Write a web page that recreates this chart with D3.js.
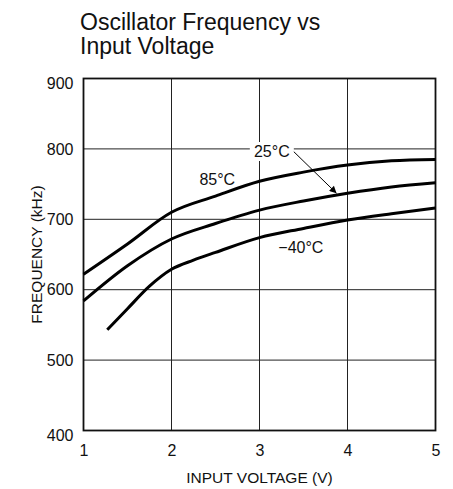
<!DOCTYPE html>
<html>
<head>
<meta charset="utf-8">
<script src="https://cdn.jsdelivr.net/npm/d3@7"></script>
<style>
    body { margin: 0; background: #fff; }
    text { font-family: "Liberation Sans", Arial, sans-serif; fill: #111; }
</style>
</head>
<body>
<svg id="chart" width="453" height="489"></svg>
<script>
// values
let xTicks = [1, 2, 3, 4, 5];
let yTicks = [400, 500, 600, 700, 800, 900];

let volts85 = [1, 1.5, 2, 2.5, 3, 3.5, 4, 4.5, 5];
let freq85 = [622, 665, 710, 733, 754, 767, 777, 783, 785];

let volts25 = [1, 1.5, 2, 2.5, 3, 3.5, 4, 4.5, 5];
let freq25 = [584, 634, 672, 694, 713, 726, 737, 746, 752];

let voltsM40 = [1.27, 1.5, 1.75, 2, 2.25, 2.5, 3, 3.5, 4, 4.5, 5];
let freqM40 = [543, 573, 605, 629, 642, 653, 674, 687, 699, 708, 716];

let margin = {top: 78.5, right: 17.5, bottom: 58.5, left: 83.5},
    width = 453 - margin.left - margin.right,
    height = 489 - margin.top - margin.bottom;

let svg = d3.select("#chart");

let x = d3.scaleLinear().domain([1, 5]).range([0, width]);
let y = d3.scaleLinear().domain([400, 900]).range([height, 0]);

// title
svg.append("text")
    .attr("x", 80)
    .attr("y", 30)
    .style("font-size", "23px")
    .text("Oscillator Frequency vs");
svg.append("text")
    .attr("x", 80)
    .attr("y", 54)
    .style("font-size", "23px")
    .text("Input Voltage");

let chart = svg.append("g")
    .attr("transform", "translate(" + margin.left + "," + margin.top + ")");

// grid
chart.append("g")
    .selectAll("line")
    .data(xTicks.slice(1, -1))
    .enter().append("line")
    .attr("x1", d => x(d)).attr("x2", d => x(d))
    .attr("y1", 0).attr("y2", height)
    .attr("stroke", "#222").attr("stroke-width", 1);

chart.append("g")
    .selectAll("line")
    .data(yTicks.slice(1, -1))
    .enter().append("line")
    .attr("x1", 0).attr("x2", width)
    .attr("y1", d => y(d)).attr("y2", d => y(d))
    .attr("stroke", "#222").attr("stroke-width", 1);

chart.append("rect")
    .attr("width", width)
    .attr("height", height)
    .attr("fill", "none")
    .attr("stroke", "#111")
    .attr("stroke-width", 1.8);

// axes (labels only)
let xAxis = chart.append("g")
    .attr("transform", "translate(0," + height + ")")
    .call(d3.axisBottom(x).tickValues(xTicks).tickSize(0).tickPadding(14).tickFormat(d3.format("d")));
xAxis.select(".domain").remove();
xAxis.selectAll("text").style("font-size", "16px").style("font-family", null);

let yAxis = chart.append("g")
    .call(d3.axisLeft(y).tickValues(yTicks).tickSize(0).tickPadding(10).tickFormat(d3.format("d")));
yAxis.select(".domain").remove();
yAxis.selectAll("text").style("font-size", "16px").style("font-family", null)
    .attr("dy", (d, i) => (i == 0 || i == yTicks.length - 1) ? "0.6em" : "0.32em");

svg.append("text")
    .attr("x", margin.left + width / 2)
    .attr("y", 483)
    .attr("text-anchor", "middle")
    .style("font-size", "15.5px")
    .text("INPUT VOLTAGE (V)");

svg.append("text")
    .attr("transform", "translate(42," + (margin.top + height / 2) + ") rotate(-90)")
    .attr("text-anchor", "middle")
    .style("font-size", "15.5px")
    .text("FREQUENCY (kHz)");

// curves
let line = d3.line()
    .x(d => x(d[0]))
    .y(d => y(d[1]))
    .curve(d3.curveMonotoneX);

[[volts85, freq85], [volts25, freq25], [voltsM40, freqM40]].forEach(function (s) {
    chart.append("path")
        .datum(s[0].map((v, i) => [v, s[1][i]]))
        .attr("d", line)
        .attr("fill", "none")
        .attr("stroke", "#000")
        .attr("stroke-width", 3);
});

// labels
chart.append("text")
    .attr("x", x(2.52)).attr("y", y(749))
    .attr("text-anchor", "middle")
    .style("font-size", "16px")
    .text("85°C");

let lbl25 = chart.append("g");
lbl25.append("rect")
    .attr("x", x(3.14) - 22).attr("y", y(788.5) - 15)
    .attr("width", 44).attr("height", 19)
    .attr("fill", "#fff");
lbl25.append("text")
    .attr("x", x(3.14)).attr("y", y(788.5))
    .attr("text-anchor", "middle")
    .style("font-size", "16px")
    .text("25°C");

chart.append("text")
    .attr("x", x(3.47)).attr("y", y(652))
    .attr("text-anchor", "middle")
    .style("font-size", "16px")
    .text("\u221240°C");

// arrow to the 25°C curve
svg.append("defs").append("marker")
    .attr("id", "arrow")
    .attr("viewBox", "0 0 10 10")
    .attr("refX", 10).attr("refY", 5)
    .attr("markerWidth", 10).attr("markerHeight", 7)
    .attr("markerUnits", "userSpaceOnUse")
    .attr("orient", "auto")
    .append("path")
    .attr("d", "M0,0L10,5L0,10z")
    .attr("fill", "#000");

chart.append("line")
    .attr("x1", x(3.39)).attr("y1", y(796))
    .attr("x2", x(3.875)).attr("y2", y(737))
    .attr("stroke", "#000")
    .attr("stroke-width", 1)
    .attr("marker-end", "url(#arrow)");
</script>
</body>
</html>
